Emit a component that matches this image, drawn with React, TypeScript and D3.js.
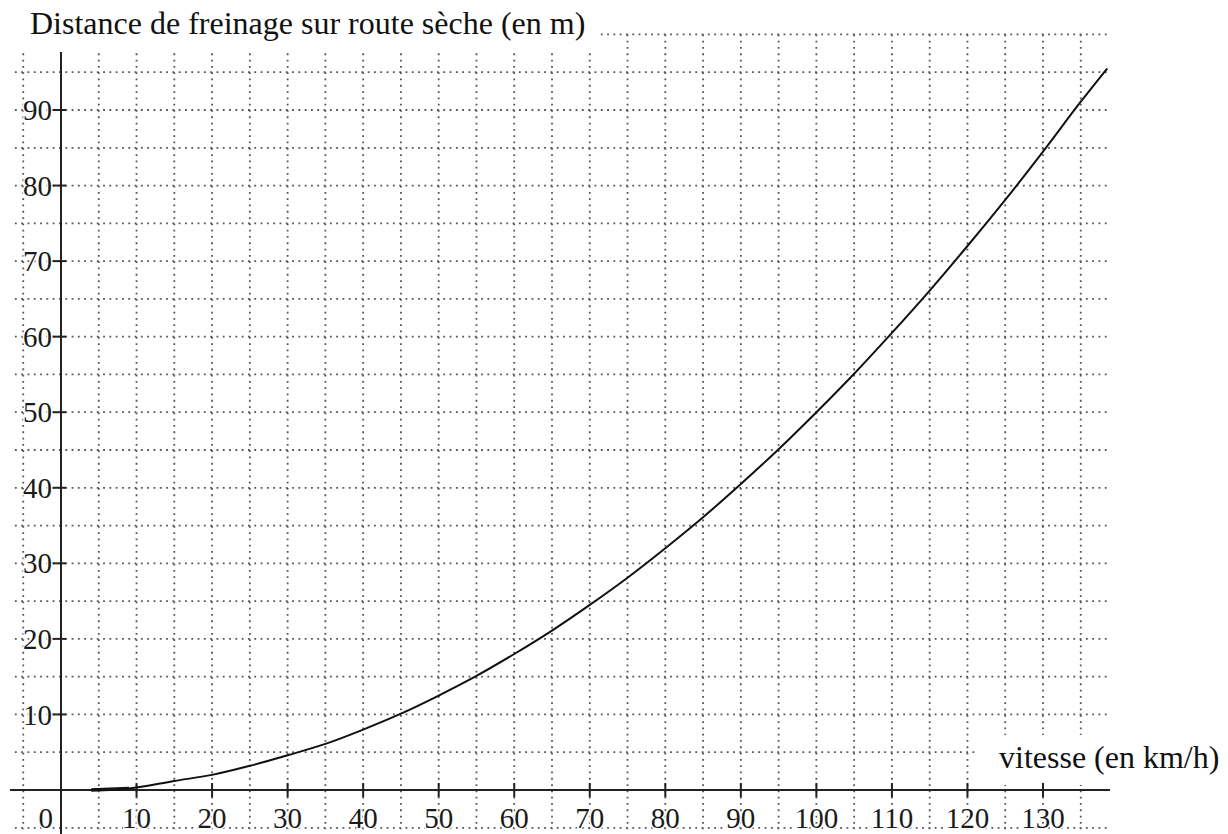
import React, { useEffect, useRef } from "react";
import * as d3 from "d3";

// speed (km/h) vs braking distance on dry road (m)
const speeds = [4, 9, 15, 20, 25, 30, 35, 40, 45, 50, 55, 60, 65, 70, 75, 80, 85, 90, 95, 100, 105, 110, 115, 120, 125, 130, 135, 138.5];
const distances = [0, 0.2, 1.2, 2, 3.2, 4.6, 6.1, 8, 10.1, 12.5, 15.1, 18, 21.1, 24.5, 28.1, 32, 36.1, 40.5, 45.1, 50, 55.1, 60.5, 66.1, 72, 78.1, 84.5, 91.1, 95.5];

const xTicks = [10, 20, 30, 40, 50, 60, 70, 80, 90, 100, 110, 120, 130];
const yTicks = [10, 20, 30, 40, 50, 60, 70, 80, 90];
const xGrid = d3.range(-5, 136, 5);
const yGrid = d3.range(-5, 101, 5);

const titleY = "Distance de freinage sur route sèche (en m)";
const titleX = "vitesse (en km/h)";

const W = 1228;
const H = 834;

const App = () => {
  const svgRef = useRef(null);

  useEffect(() => {
    const svg = d3.select(svgRef.current);
    svg.selectAll("*").remove();

    const x = d3.scaleLinear().domain([0, 130]).range([61, 1043]);
    const y = d3.scaleLinear().domain([0, 90]).range([790, 110]);
    const font = "'Liberation Serif', 'Times New Roman', serif";

    const xLeft = x(-6.1);
    const xRight = x(138.7);

    // dotted grid
    const grid = svg.append("g")
      .attr("stroke", "#555")
      .attr("stroke-width", 1.8)
      .attr("stroke-dasharray", "1.8,4.5");

    grid.selectAll("line.h")
      .data(yGrid)
      .join("line")
      .attr("class", "h")
      .attr("x1", xLeft)
      .attr("x2", xRight)
      .attr("y1", (d) => y(d))
      .attr("y2", (d) => y(d));

    grid.selectAll("line.v")
      .data(xGrid)
      .join("line")
      .attr("class", "v")
      .attr("x1", (d) => x(d))
      .attr("x2", (d) => x(d))
      .attr("y1", y(100))
      .attr("y2", y(-5.2));

    // title box hides the grid behind it
    svg.append("rect")
      .attr("x", 0)
      .attr("y", 0)
      .attr("width", 600)
      .attr("height", 52)
      .attr("fill", "white");

    svg.append("text")
      .attr("x", 30)
      .attr("y", 34)
      .attr("font-family", font)
      .attr("font-size", 32)
      .attr("fill", "#111")
      .text(titleY);

    // x axis title with a white background
    svg.append("rect")
      .attr("x", 978)
      .attr("y", 735)
      .attr("width", 250)
      .attr("height", 50)
      .attr("fill", "white");

    svg.append("text")
      .attr("x", 999)
      .attr("y", 768)
      .attr("font-family", font)
      .attr("font-size", 32)
      .attr("fill", "#111")
      .text(titleX);

    // axes
    svg.append("line")
      .attr("x1", 10)
      .attr("x2", 1110)
      .attr("y1", y(0))
      .attr("y2", y(0))
      .attr("stroke", "#222")
      .attr("stroke-width", 2);

    svg.append("line")
      .attr("x1", x(0))
      .attr("x2", x(0))
      .attr("y1", 52)
      .attr("y2", H)
      .attr("stroke", "#222")
      .attr("stroke-width", 2);

    // x ticks
    svg.selectAll("line.xt")
      .data(xTicks)
      .join("line")
      .attr("class", "xt")
      .attr("x1", (d) => x(d))
      .attr("x2", (d) => x(d))
      .attr("y1", y(0) - 7)
      .attr("y2", y(0) + 7)
      .attr("stroke", "#222")
      .attr("stroke-width", 2);

    // y ticks
    svg.selectAll("line.yt")
      .data(yTicks)
      .join("line")
      .attr("class", "yt")
      .attr("x1", x(0) - 9)
      .attr("x2", x(0) + 5)
      .attr("y1", (d) => y(d))
      .attr("y2", (d) => y(d))
      .attr("stroke", "#222")
      .attr("stroke-width", 2);

    const label = (sel) =>
      sel
        .attr("font-family", font)
        .attr("font-size", 29)
        .attr("fill", "#1a1a1a")
        .attr("stroke", "white")
        .attr("stroke-width", 3)
        .attr("paint-order", "stroke");

    svg.selectAll("text.xl")
      .data(xTicks)
      .join("text")
      .attr("class", "xl")
      .attr("x", (d) => x(d))
      .attr("y", 828)
      .attr("text-anchor", "middle")
      .call(label)
      .text((d) => d);

    svg.append("text")
      .attr("x", x(0) - 8)
      .attr("y", 828)
      .attr("text-anchor", "end")
      .call(label)
      .text("0");

    svg.selectAll("text.yl")
      .data(yTicks)
      .join("text")
      .attr("class", "yl")
      .attr("x", x(0) - 9)
      .attr("y", (d) => y(d))
      .attr("dy", "0.35em")
      .attr("text-anchor", "end")
      .call(label)
      .text((d) => d);

    // braking curve
    const pts = speeds.map((s, i) => [s, distances[i]]);
    const line = d3.line()
      .x((d) => x(d[0]))
      .y((d) => y(d[1]))
      .curve(d3.curveMonotoneX);

    svg.append("path")
      .datum(pts)
      .attr("d", line)
      .attr("fill", "none")
      .attr("stroke", "#111")
      .attr("stroke-width", 2);

    svg.append("path")
      .datum(pts.slice(0, 2))
      .attr("d", line)
      .attr("fill", "none")
      .attr("stroke", "#111")
      .attr("stroke-width", 3.5);
  }, []);

  return (
    <svg
      ref={svgRef}
      width={W}
      height={H}
      style={{ position: "absolute", left: 0, top: 0, background: "white" }}
    ></svg>
  );
};

export default App;
